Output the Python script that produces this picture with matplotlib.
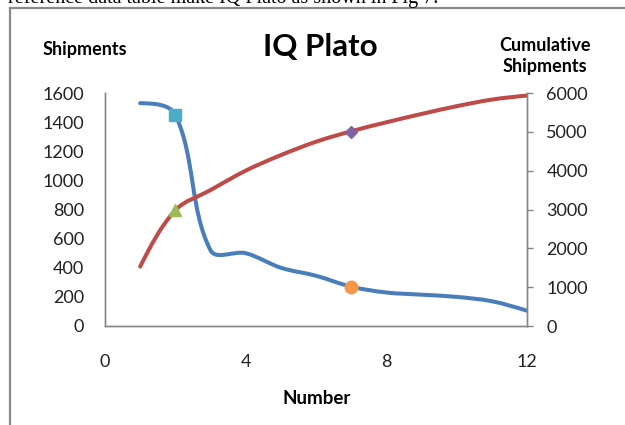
import matplotlib
matplotlib.use('Agg')
import numpy as np
import matplotlib.pyplot as plt
from matplotlib.path import Path
from matplotlib.patches import PathPatch
from matplotlib.lines import Line2D

# data
number = [1, 2, 3, 4, 5, 6, 7, 8, 9, 10, 11, 12]
shipments = [1530, 1450, 520, 500, 400, 345, 270, 230, 215, 200, 170, 105]
cumulative = [1530, 2980, 3500, 4000, 4400, 4745, 5015, 5245, 5460, 5660, 5830, 5935]

# single highlighted points
square_pt = (2, 1450)
circle_pt = (7, 270)
triangle_pt = (2, 2980)
diamond_pt = (7, 5000)

left_ticks = list(range(0, 1601, 200))
right_ticks = list(range(0, 6001, 1000))
x_ticks = [0, 4, 8, 12]

FONT = 'Lato'
GRAY = '#868686'


def smooth_path(a, xs, ys):
    # Excel style smoothed line: bezier built in screen space, tangent
    # length scaled by the neighbouring segment lengths (less overshoot)
    pts = a.transData.transform(np.column_stack([xs, ys]))
    n = len(pts)
    verts = [pts[0]]
    codes = [Path.MOVETO]
    for i in range(n - 1):
        p1, p2 = pts[i], pts[i + 1]
        seg = np.hypot(*(p2 - p1))
        c1 = c2 = None
        if i > 0:
            t1 = p2 - pts[i - 1]
            c1 = p1 + t1 / np.hypot(*t1) * seg / 3
        if i + 2 < n:
            t2 = pts[i + 2] - p1
            c2 = p2 - t2 / np.hypot(*t2) * seg / 3
        # end segments: aim the free end at the other control point
        if c1 is None:
            t1 = c2 - p1
            c1 = p1 + t1 / np.hypot(*t1) * seg / 3
        if c2 is None:
            t2 = p2 - c1
            c2 = p2 - t2 / np.hypot(*t2) * seg / 3
        verts += [c1, c2, p2]
        codes += [Path.CURVE4] * 3
    verts = a.transData.inverted().transform(np.array(verts))
    return Path(verts, codes)


fig = plt.figure(figsize=(6.25, 4.25), dpi=100)
ax = fig.add_axes([105 / 625, 1 - 326 / 425, 422 / 625, 233 / 425])
ax2 = ax.twinx()

ax.set_xlim(0, 12)
ax.set_ylim(0, 1600)
ax2.set_ylim(0, 6000)
ax.set_xticks(x_ticks)
ax.set_yticks(left_ticks)
ax2.set_yticks(right_ticks)

ax.add_patch(PathPatch(smooth_path(ax, number, shipments), fill=False,
                       edgecolor='#4A7EBB', lw=2.9, capstyle='round', zorder=2))
ax2.add_patch(PathPatch(smooth_path(ax2, number, cumulative), fill=False,
                        edgecolor='#BE4B48', lw=2.9, capstyle='round', zorder=2))

ax.plot(*square_pt, marker='s', ms=8.5, color='#4BACC6', mec='#4BACC6', zorder=3)
ax.plot(*circle_pt, marker='o', ms=9, color='#F79646', mec='#F79646', zorder=3)
ax2.plot(*triangle_pt, marker='^', ms=9, color='#9BBB59', mec='#9BBB59', zorder=3)
ax2.plot(*diamond_pt, marker='D', ms=6.5, color='#8064A2', mec='#8064A2', zorder=3)

for a in (ax, ax2):
    a.spines['top'].set_visible(False)
    for s in ('left', 'right', 'bottom'):
        a.spines[s].set_color(GRAY)
        a.spines[s].set_linewidth(1.0)

ax.tick_params(axis='y', length=0, pad=15, labelsize=13, labelcolor='#222222')
ax.tick_params(axis='x', length=0, pad=20, labelsize=13, labelcolor='#222222')
ax2.tick_params(axis='y', length=4, width=1, color=GRAY, pad=10, labelsize=13,
                labelcolor='#222222')
for lab in ax.get_xticklabels() + ax.get_yticklabels() + ax2.get_yticklabels():
    lab.set_fontfamily(FONT)

fig.text(320 / 625, 1 - 47 / 425, 'IQ Plato', ha='center', va='center',
         fontsize=22.5, fontweight='bold', family=FONT)
fig.text(85 / 625, 1 - 49 / 425, 'Shipments', ha='center', va='center',
         fontsize=13, fontweight='bold', family=FONT)
fig.text(545 / 625, 1 - 56 / 425, 'Cumulative\nShipments', ha='center', va='center',
         fontsize=13, fontweight='bold', family=FONT, linespacing=1.3)
fig.text(317 / 625, 1 - 398 / 425, 'Number', ha='center', va='center',
         fontsize=13.5, fontweight='bold', family=FONT)

# cropped document text and the frame around the chart
fig.text(8 / 625, 1 - 3.5 / 425, 'reference data table make IQ Plato as shown in Fig 7.',
         ha='left', va='baseline', fontsize=14.5, family='Liberation Serif')
fig.add_artist(Line2D([9.5 / 625, 9.5 / 625], [0, 1 - 7.5 / 425], color='#8a8a8a', lw=1.6))
fig.add_artist(Line2D([9.5 / 625, 1], [1 - 7.5 / 425, 1 - 7.5 / 425], color='#8a8a8a', lw=1.6))

fig.savefig('out.png', dpi=100)
